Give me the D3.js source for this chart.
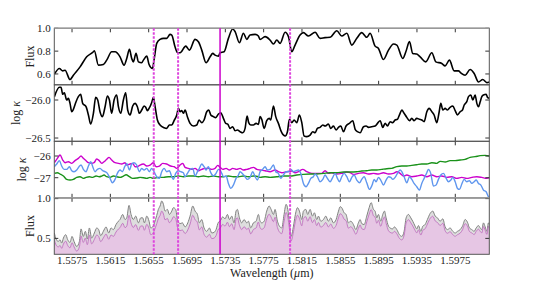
<!DOCTYPE html>
<html>
<head>
<meta charset="utf-8">
<script src="https://cdn.jsdelivr.net/npm/d3@7"></script>
<style>
body { margin: 0; background: #fff; }
text { font-family: "Liberation Serif", "DejaVu Serif", serif; fill: #222; }
</style>
</head>
<body>
<svg id="chart" width="544" height="283"></svg>
<script>
// wavelength range (micron) and tick values
var waveRange = [1.55565, 1.60105];
var waveTicks = [1.5575, 1.5615, 1.5655, 1.5695, 1.5735, 1.5775, 1.5815, 1.5855, 1.5895, 1.5935, 1.5975];

// marked lines
var dottedLines = [1.56603, 1.56857, 1.58026];
var solidLine = 1.57295;

// panel 1: observed flux
var fluxTop = [[1.55566,0.598],[1.55618,0.648],[1.55653,0.627],[1.55677,0.633],[1.55729,0.551],[1.55764,0.589],[1.55834,0.662],[1.55903,0.750],[1.55973,0.794],[1.55983,0.803],[1.56025,0.677],[1.56077,0.683],[1.56112,0.721],[1.56164,0.794],[1.56199,0.794],[1.56251,0.750],[1.56293,0.677],[1.56321,0.736],[1.56349,0.815],[1.56373,0.736],[1.5639,0.706],[1.56418,0.780],[1.56443,0.706],[1.56477,0.698],[1.56495,0.721],[1.5653,0.756],[1.56554,0.683],[1.56589,0.648],[1.56606,0.721],[1.56634,0.868],[1.56669,0.903],[1.56704,0.912],[1.56738,0.912],[1.56773,0.947],[1.56791,0.941],[1.56825,0.838],[1.56853,0.786],[1.56878,0.786],[1.56937,0.844],[1.56975,0.809],[1.57034,0.903],[1.57069,0.883],[1.57104,0.809],[1.57149,0.698],[1.57191,0.750],[1.57219,0.780],[1.57243,0.765],[1.57278,0.756],[1.57295,0.786],[1.57337,0.794],[1.57382,0.912],[1.57427,0.994],[1.57452,0.971],[1.57497,0.874],[1.57539,0.956],[1.57574,0.903],[1.57608,0.941],[1.57661,0.947],[1.57695,0.932],
  [1.57713,0.903],[1.57765,0.927],[1.57817,0.897],[1.57852,0.862],[1.57887,0.897],[1.57922,0.868],[1.57974,0.965],[1.58009,0.927],[1.58043,0.794],[1.58078,0.853],[1.5813,0.941],[1.58165,0.962],[1.58217,0.932],[1.58287,0.965],[1.58339,0.912],[1.58391,0.918],[1.58444,0.921],[1.58513,0.979],[1.58565,0.932],[1.58618,0.956],[1.5867,0.853],[1.58722,0.912],[1.58774,0.962],[1.58826,0.921],[1.58861,0.956],[1.58913,0.844],[1.58948,0.824],[1.59,0.727],[1.59053,0.809],[1.59105,0.862],[1.5914,0.853],[1.59202,0.736],[1.59234,0.794],[1.59272,0.883],[1.59306,0.780],[1.59348,0.774],[1.59383,0.750],[1.59442,0.706],[1.59505,0.786],[1.59547,0.706],[1.59609,0.692],[1.59644,0.671],[1.59689,0.721],[1.59738,0.627],[1.59783,0.627],[1.59808,0.609],[1.59853,0.589],[1.59905,0.639],[1.59947,0.604],[1.59992,0.530],[1.60037,0.551],[1.60079,0.524],[1.60107,0.530]];

// panel 2: log kappa
var logkTop = [[1.55566,-25.956],[1.55618,-25.833],[1.55635,-25.833],[1.55653,-25.925],[1.5567,-25.904],[1.55694,-26.0],[1.55712,-25.978],[1.55729,-26.044],[1.55747,-26.154],[1.55764,-26.123],[1.55792,-26.022],[1.55816,-25.956],[1.5584,-25.925],[1.55861,-26.044],[1.55896,-26.088],[1.55921,-26.197],[1.55945,-26.316],[1.55973,-26.175],[1.55997,-25.965],[1.56018,-26.0],[1.56042,-26.154],[1.56067,-26.219],[1.56095,-26.088],[1.56119,-25.947],[1.5614,-26.0],[1.56164,-26.175],[1.56189,-26.0],[1.56216,-25.934],[1.56234,-26.088],[1.56258,-26.175],[1.56286,-26.0],[1.5631,-25.904],[1.56331,-26.132],[1.56356,-26.197],[1.56383,-26.079],[1.56408,-26.044],[1.56432,-26.088],[1.56453,-26.175],[1.56477,-26.132],[1.56502,-26.079],[1.56519,-26.096],[1.56537,-26.140],[1.56554,-26.110],[1.56581,-26.035],[1.56599,-25.965],[1.56617,-26.088],[1.56641,-26.263],[1.56669,-26.329],[1.56711,-26.364],[1.56738,-26.373],[1.56766,-26.329],[1.56791,-26.329],[1.56815,-26.272],[1.56843,-26.197],[1.5686,-26.110],[1.56878,-26.154],[1.56895,-26.140],[1.56912,-26.175],[1.5693,-26.132],[1.56954,-26.219],[1.56982,-26.307],[1.57017,-26.342],[1.57052,-26.329],[1.57076,-26.263],[1.57104,-26.298],[1.57128,-26.263],[1.57156,-26.154],[1.57177,-26.132],[1.57198,-26.197],[1.57226,-26.219],[1.5725,-26.232],[1.57278,-26.184],[1.57302,-26.167],[1.5733,-26.241],[1.57354,-26.307],[1.57375,-26.316],[1.574,-26.373],[1.57427,-26.351],[1.57452,-26.404],[1.57476,-26.395],[1.57504,-26.417],[1.57532,-26.430],[1.57556,-26.373],[1.57577,-26.211],[1.57594,-26.298],[1.57615,-26.329],[1.57643,-26.329],[1.57671,-26.307],[1.57695,-26.320],
  [1.57713,-26.219],[1.5773,-26.254],[1.57755,-26.373],[1.57782,-26.272],[1.57807,-26.241],[1.57824,-26.263],[1.57852,-26.079],[1.57876,-26.219],[1.57904,-26.307],[1.57939,-26.430],[1.57974,-26.474],[1.57998,-26.417],[1.58019,-26.254],[1.58043,-26.298],[1.58068,-26.263],[1.58096,-26.298],[1.58123,-26.197],[1.58148,-26.298],[1.58172,-26.474],[1.582,-26.482],[1.58235,-26.461],[1.58263,-26.417],[1.58287,-26.430],[1.58311,-26.373],[1.58339,-26.360],[1.58367,-26.329],[1.58391,-26.342],[1.58426,-26.316],[1.5845,-26.373],[1.58478,-26.342],[1.58506,-26.395],[1.58531,-26.360],[1.58555,-26.342],[1.58583,-26.417],[1.5861,-26.342],[1.58645,-26.307],[1.5868,-26.272],[1.58705,-26.386],[1.58729,-26.417],[1.58757,-26.430],[1.58792,-26.351],[1.58819,-26.342],[1.58844,-26.360],[1.58878,-26.351],[1.58913,-26.342],[1.58938,-26.307],[1.58966,-26.272],[1.58993,-26.360],[1.59018,-26.307],[1.59042,-26.342],[1.5907,-26.285],[1.59098,-26.298],[1.59122,-26.263],[1.59146,-26.254],[1.59174,-26.175],[1.59192,-26.132],[1.59216,-26.175],[1.59244,-26.228],[1.59272,-26.272],[1.59296,-26.241],[1.5932,-26.272],[1.59348,-26.241],[1.59376,-26.254],[1.594,-26.263],[1.59425,-26.285],[1.59453,-26.154],[1.59477,-26.110],[1.59505,-26.154],[1.59529,-26.197],[1.59557,-26.298],[1.59582,-26.154],[1.59599,-26.044],[1.5962,-26.132],[1.59644,-26.110],[1.59668,-26.132],[1.59696,-26.096],[1.59724,-26.079],[1.59749,-26.140],[1.59773,-26.197],[1.59801,-26.154],[1.59825,-26.132],[1.59843,-26.066],[1.5987,-26.022],[1.59888,-25.956],[1.59912,-25.934],[1.59933,-26.0],[1.59957,-25.934],[1.59975,-26.044],[1.59992,-26.088],[1.6001,-26.022],[1.60027,-25.956],[1.60044,-25.934],[1.60072,-25.925],[1.60086,-25.965],[1.60107,-25.978]];

// panel 3: three log kappa curves
var logkMagenta = [[1.55566,-26.308],[1.55597,-26.108],[1.55625,-25.954],[1.55653,-26.185],[1.55677,-26.308],[1.55712,-26.262],[1.55747,-26.338],[1.55781,-26.215],[1.55816,-26.108],[1.55844,-26.0],[1.55868,-26.108],[1.55896,-26.215],[1.55921,-26.308],[1.55955,-26.338],[1.5598,-26.308],[1.56008,-26.138],[1.56035,-26.215],[1.5606,-26.338],[1.56084,-26.262],[1.56112,-26.154],[1.56136,-26.062],[1.56164,-26.185],[1.56199,-26.308],[1.56234,-26.338],[1.56268,-26.369],[1.56303,-26.308],[1.56321,-26.415],[1.56356,-26.369],[1.56383,-26.338],[1.56408,-26.492],[1.56432,-26.492],[1.5646,-26.415],[1.56495,-26.369],[1.5653,-26.462],[1.56564,-26.415],[1.56599,-26.308],[1.56627,-26.492],[1.56662,-26.462],[1.56696,-26.338],[1.56738,-26.369],[1.5678,-26.462],[1.56815,-26.492],[1.56843,-26.569],[1.56878,-26.415],[1.56905,-26.338],[1.5693,-26.523],[1.56965,-26.569],[1.56999,-26.615],[1.57034,-26.569],[1.57069,-26.677],[1.57104,-26.615],[1.57139,-26.569],[1.57173,-26.569],[1.57208,-26.615],[1.57243,-26.569],[1.57271,-26.431],[1.57295,-26.523],[1.57323,-26.615],[1.57358,-26.569],[1.57393,-26.646],[1.57427,-26.569],[1.57469,-26.615],[1.57504,-26.569],[1.57539,-26.646],[1.57574,-26.615],[1.57608,-26.569],[1.57643,-26.523],[1.57678,-26.615],
  [1.57713,-26.646],[1.57765,-26.677],[1.57817,-26.723],[1.57869,-26.646],[1.57904,-26.723],[1.57939,-26.769],[1.57991,-26.723],[1.58043,-26.692],[1.58078,-26.769],[1.58113,-26.723],[1.58158,-26.615],[1.582,-26.723],[1.58252,-26.8],[1.58304,-26.8],[1.58357,-26.8],[1.58391,-26.677],[1.58426,-26.8],[1.58461,-26.769],[1.58513,-26.831],[1.58565,-26.8],[1.58618,-26.738],[1.58652,-26.769],[1.58687,-26.846],[1.58739,-26.8],[1.58792,-26.769],[1.58844,-26.831],[1.58896,-26.8],[1.58948,-26.831],[1.59,-26.769],[1.59053,-26.831],[1.59105,-26.8],[1.5914,-26.723],[1.59174,-26.8],[1.59209,-26.923],[1.59244,-26.877],[1.59296,-26.954],[1.59348,-26.923],[1.594,-26.877],[1.59453,-26.954],[1.59505,-26.877],[1.59557,-26.954],[1.59609,-26.923],[1.59662,-26.985],[1.59714,-26.954],[1.59766,-27.031],[1.59818,-26.985],[1.5987,-27.031],[1.59923,-26.985],[1.59975,-26.954],[1.60027,-26.985],[1.60079,-27.031],[1.60107,-27.0]];

var logkGreen = [[1.55566,-26.8],[1.55597,-26.769],[1.55625,-26.831],[1.5566,-26.923],[1.55694,-27.077],[1.55729,-27.108],[1.55764,-27.077],[1.55799,-26.985],[1.55834,-26.954],[1.55868,-27.031],[1.55896,-26.985],[1.55931,-26.954],[1.55966,-26.985],[1.56001,-26.923],[1.56035,-26.954],[1.5606,-26.923],[1.56084,-26.877],[1.56112,-26.954],[1.56147,-26.985],[1.56182,-26.923],[1.56216,-26.954],[1.56251,-26.985],[1.56286,-26.923],[1.56314,-26.862],[1.56349,-26.954],[1.56383,-27.031],[1.56425,-27.015],[1.5646,-26.985],[1.56495,-27.0],[1.5653,-27.031],[1.56564,-26.985],[1.56599,-27.031],[1.56651,-26.985],[1.56704,-26.985],[1.56756,-26.954],[1.56808,-26.954],[1.5686,-26.923],[1.56912,-26.954],[1.56965,-26.923],[1.57017,-26.923],[1.57069,-26.954],[1.57121,-26.923],[1.57173,-26.954],[1.57226,-26.923],[1.57278,-26.954],[1.5733,-26.954],[1.57382,-26.923],[1.57434,-26.954],[1.57487,-26.954],[1.57539,-26.923],[1.57591,-26.954],[1.57643,-26.923],[1.57695,-26.954],
  [1.57713,-26.985],[1.57765,-26.954],[1.57817,-26.985],[1.57887,-26.954],[1.57956,-26.923],[1.58026,-26.923],[1.58096,-26.877],[1.58165,-26.846],[1.58235,-26.831],[1.58304,-26.831],[1.58374,-26.8],[1.58444,-26.769],[1.58513,-26.769],[1.58583,-26.738],[1.58652,-26.738],[1.58722,-26.723],[1.58774,-26.692],[1.58826,-26.677],[1.58878,-26.646],[1.58931,-26.646],[1.58983,-26.615],[1.59035,-26.585],[1.59087,-26.569],[1.5914,-26.492],[1.59192,-26.462],[1.59244,-26.462],[1.59296,-26.431],[1.59348,-26.4],[1.594,-26.369],[1.59453,-26.369],[1.59505,-26.308],[1.59557,-26.338],[1.59592,-26.246],[1.59644,-26.277],[1.59696,-26.215],[1.59749,-26.215],[1.59801,-26.185],[1.59853,-26.154],[1.59905,-26.062],[1.59957,-26.031],[1.6001,-25.985],[1.60062,-25.969],[1.60107,-26.0]];

var logkBlue = [[1.55566,-26.492],[1.5559,-26.369],[1.55618,-26.215],[1.55642,-26.462],[1.55667,-26.615],[1.55694,-26.615],[1.55722,-26.492],[1.55747,-26.677],[1.55771,-26.723],[1.55799,-26.646],[1.55823,-26.492],[1.55844,-26.415],[1.55868,-26.615],[1.55896,-26.723],[1.55921,-26.462],[1.55945,-26.262],[1.55966,-26.492],[1.5599,-26.723],[1.56015,-26.615],[1.56042,-26.569],[1.5607,-26.677],[1.56095,-26.723],[1.56119,-26.8],[1.56147,-27.031],[1.56171,-27.231],[1.56199,-27.077],[1.56223,-26.8],[1.56251,-26.646],[1.56276,-26.723],[1.563,-26.492],[1.56321,-26.338],[1.56349,-26.646],[1.56373,-26.369],[1.56397,-26.308],[1.56425,-26.415],[1.56453,-26.723],[1.56477,-26.569],[1.56502,-26.646],[1.5653,-26.569],[1.56557,-26.723],[1.56581,-26.569],[1.56606,-26.723],[1.56634,-26.954],[1.56662,-27.031],[1.56686,-26.723],[1.56711,-26.569],[1.56738,-26.723],[1.56766,-26.677],[1.56791,-26.954],[1.56808,-27.077],[1.56832,-26.8],[1.5686,-26.677],[1.56885,-26.723],[1.56912,-26.769],[1.5693,-26.954],[1.56954,-26.8],[1.56982,-26.615],[1.5701,-26.569],[1.57034,-26.923],[1.57059,-26.723],[1.57079,-26.569],[1.57104,-26.369],[1.57128,-26.492],[1.57149,-26.646],[1.57173,-26.492],[1.57198,-26.769],[1.57226,-26.923],[1.57253,-26.8],[1.57278,-26.615],[1.57295,-26.646],[1.57313,-26.8],[1.5733,-26.954],[1.57358,-26.923],[1.57382,-27.262],[1.57407,-27.492],[1.57434,-27.338],[1.57462,-27.031],[1.57487,-26.877],[1.57504,-26.723],[1.57532,-26.831],[1.57556,-26.954],[1.5758,-27.077],[1.57608,-26.985],[1.57636,-26.723],[1.57661,-26.954],[1.57685,-27.108],
  [1.57713,-26.723],[1.5774,-26.615],[1.57765,-26.492],[1.57789,-26.646],[1.57817,-26.615],[1.57852,-26.415],[1.57876,-26.723],[1.57904,-26.8],[1.57928,-27.031],[1.57956,-26.877],[1.57984,-26.723],[1.58009,-26.723],[1.58033,-26.615],[1.58061,-26.723],[1.58089,-26.677],[1.58113,-26.646],[1.58137,-26.8],[1.58165,-27.262],[1.58193,-27.415],[1.58217,-27.262],[1.58242,-27.031],[1.58269,-26.954],[1.58287,-26.831],[1.58311,-26.954],[1.58339,-27.185],[1.58367,-27.077],[1.58391,-26.877],[1.58409,-26.985],[1.58444,-27.185],[1.58471,-26.985],[1.58496,-26.8],[1.5852,-27.031],[1.58541,-27.185],[1.58565,-26.954],[1.5859,-26.8],[1.58618,-26.954],[1.58645,-27.185],[1.5867,-26.985],[1.58694,-26.877],[1.58722,-27.108],[1.5875,-27.231],[1.58774,-27.077],[1.58799,-26.954],[1.58826,-27.231],[1.58854,-27.538],[1.58882,-27.338],[1.58903,-27.077],[1.58924,-27.185],[1.58948,-26.985],[1.58972,-27.108],[1.59,-27.338],[1.59028,-27.108],[1.59053,-26.954],[1.59077,-26.985],[1.59098,-27.077],[1.59122,-26.985],[1.59146,-26.8],[1.59174,-26.646],[1.59192,-26.723],[1.59216,-26.954],[1.59244,-27.231],[1.59272,-26.954],[1.59296,-27.077],[1.5932,-27.262],[1.59348,-27.415],[1.59376,-27.569],[1.594,-27.262],[1.59425,-27.031],[1.59453,-26.769],[1.5947,-26.615],[1.59494,-26.8],[1.59522,-27.385],[1.5955,-27.338],[1.59574,-27.077],[1.59599,-26.877],[1.59627,-26.8],[1.59655,-27.031],[1.59679,-27.185],[1.59704,-27.108],[1.59724,-26.985],[1.59749,-27.185],[1.59773,-27.492],[1.59794,-27.538],[1.59818,-27.292],[1.59843,-27.077],[1.5987,-27.185],[1.59898,-27.138],[1.59923,-27.262],[1.59947,-27.185],[1.59968,-27.108],[1.59992,-27.262],[1.60017,-27.338],[1.60044,-27.569],[1.60072,-27.646],[1.60096,-27.877],[1.60107,-27.908]];

// panel 4: model flux (grey) and flux with extra opacity (pink)
var fluxGrey = [[1.55566,0.568],[1.55583,0.492],[1.55607,0.462],[1.55625,0.483],[1.55642,0.441],[1.5566,0.504],[1.55684,0.547],[1.55705,0.483],[1.55729,0.449],[1.5575,0.525],[1.55771,0.462],[1.55799,0.398],[1.55827,0.462],[1.55844,0.619],[1.55868,0.525],[1.55889,0.589],[1.5591,0.492],[1.55931,0.631],[1.55955,0.504],[1.55983,0.568],[1.56008,0.631],[1.56028,0.610],[1.56049,0.534],[1.56077,0.589],[1.56105,0.644],[1.56133,0.568],[1.56157,0.631],[1.56182,0.610],[1.56209,0.674],[1.56234,0.716],[1.56251,0.737],[1.56279,0.801],[1.56303,0.737],[1.56321,0.758],[1.56345,0.915],[1.56366,0.801],[1.5639,0.737],[1.56415,0.780],[1.56443,0.695],[1.56467,0.758],[1.56488,0.758],[1.56505,0.695],[1.5653,0.780],[1.56554,0.716],[1.56571,0.631],[1.56592,0.644],[1.5661,0.695],[1.56634,0.788],[1.56651,0.864],[1.56669,0.907],[1.56686,0.970],[1.56704,0.928],[1.56721,0.843],[1.56745,0.864],[1.56766,0.801],[1.56791,0.843],[1.56808,0.886],[1.56832,0.864],[1.5685,0.737],[1.56878,0.686],[1.56902,0.695],[1.5693,0.644],[1.56958,0.695],[1.56982,0.780],[1.5701,0.907],[1.57034,0.843],[1.57059,0.801],[1.57079,0.695],[1.57104,0.737],[1.57128,0.631],[1.57156,0.589],[1.57184,0.631],[1.57208,0.568],[1.57233,0.576],[1.57253,0.610],[1.57278,0.703],[1.57295,0.716],[1.57323,0.771],[1.57347,0.746],[1.57372,0.801],[1.57393,0.737],[1.57417,0.780],[1.57441,0.695],[1.57462,0.843],[1.57476,0.864],[1.57497,0.758],[1.57521,0.695],[1.57546,0.737],[1.57574,0.695],[1.57591,0.716],[1.57615,0.631],[1.57643,0.695],[1.57671,0.716],[1.57695,0.801],
  [1.57713,0.716],[1.5773,0.695],[1.57755,0.716],[1.57782,0.843],[1.57807,0.907],[1.57828,0.864],[1.57852,0.801],[1.57869,0.864],[1.57894,0.716],[1.57915,0.653],[1.57939,0.631],[1.57963,0.801],[1.57984,0.928],[1.58002,0.864],[1.58019,0.695],[1.58036,0.525],[1.58061,0.653],[1.58078,0.780],[1.58103,0.886],[1.58123,0.843],[1.58148,0.737],[1.58165,0.843],[1.5819,0.864],[1.5821,0.801],[1.58235,0.864],[1.58259,0.780],[1.5828,0.822],[1.58304,0.737],[1.58322,0.780],[1.58346,0.716],[1.58374,0.737],[1.58398,0.780],[1.58426,0.716],[1.5845,0.758],[1.58478,0.695],[1.58506,0.737],[1.58531,0.843],[1.58548,0.898],[1.58565,0.886],[1.5859,0.822],[1.5861,0.801],[1.58635,0.695],[1.58659,0.716],[1.58687,0.674],[1.58712,0.610],[1.58739,0.695],[1.58757,0.737],[1.58774,0.686],[1.58799,0.674],[1.58826,0.780],[1.58851,0.886],[1.58872,0.949],[1.58896,0.864],[1.58913,0.843],[1.58931,0.758],[1.58948,0.801],[1.58972,0.716],[1.58993,0.801],[1.59011,0.843],[1.59028,0.758],[1.59053,0.653],[1.5907,0.631],[1.59094,0.619],[1.59115,0.644],[1.5914,0.610],[1.59167,0.547],[1.59192,0.525],[1.59216,0.589],[1.59237,0.758],[1.59261,0.801],[1.59286,0.758],[1.59306,0.716],[1.59331,0.653],[1.59348,0.619],[1.59366,0.661],[1.5939,0.589],[1.59411,0.653],[1.59435,0.674],[1.59459,0.737],[1.59488,0.814],[1.59515,0.843],[1.5954,0.780],[1.59564,0.758],[1.59592,0.716],[1.5962,0.746],[1.59644,0.644],[1.59668,0.610],[1.59696,0.631],[1.59724,0.589],[1.59749,0.568],[1.59773,0.589],[1.59801,0.610],[1.59825,0.653],[1.59853,0.737],[1.59877,0.703],[1.59898,0.631],[1.59923,0.610],[1.59947,0.589],[1.59968,0.631],[1.59992,0.661],[1.6001,0.631],[1.60027,0.610],[1.60044,0.695],[1.60062,0.644],[1.60079,0.589],[1.60096,0.695],[1.60107,0.674]];

var fluxPink = [[1.55566,0.483],[1.55583,0.418],[1.55607,0.393],[1.55625,0.411],[1.55642,0.375],[1.5566,0.428],[1.55684,0.465],[1.55705,0.411],[1.55729,0.382],[1.5575,0.446],[1.55771,0.393],[1.55799,0.340],[1.55827,0.395],[1.55844,0.529],[1.55868,0.449],[1.55889,0.504],[1.5591,0.421],[1.55931,0.540],[1.55955,0.431],[1.55983,0.487],[1.56008,0.542],[1.56028,0.524],[1.56049,0.459],[1.56077,0.506],[1.56105,0.554],[1.56133,0.489],[1.56157,0.543],[1.56182,0.525],[1.56209,0.580],[1.56234,0.617],[1.56251,0.635],[1.56279,0.690],[1.56303,0.635],[1.56321,0.653],[1.56345,0.790],[1.56366,0.692],[1.5639,0.637],[1.56415,0.674],[1.56443,0.601],[1.56467,0.656],[1.56488,0.656],[1.56505,0.602],[1.5653,0.676],[1.56554,0.621],[1.56571,0.547],[1.56592,0.558],[1.5661,0.603],[1.56634,0.684],[1.56651,0.750],[1.56669,0.788],[1.56686,0.843],[1.56704,0.806],[1.56721,0.733],[1.56745,0.751],[1.56766,0.697],[1.56791,0.733],[1.56808,0.771],[1.56832,0.752],[1.5685,0.642],[1.56878,0.598],[1.56902,0.605],[1.5693,0.561],[1.56958,0.606],[1.56982,0.680],[1.5701,0.791],[1.57034,0.736],[1.57059,0.699],[1.57079,0.607],[1.57104,0.644],[1.57128,0.551],[1.57156,0.515],[1.57184,0.552],[1.57208,0.497],[1.57233,0.504],[1.57253,0.534],[1.57278,0.616],[1.57295,0.627],[1.57323,0.676],[1.57347,0.654],[1.57372,0.703],[1.57393,0.647],[1.57417,0.685],[1.57441,0.610],[1.57462,0.741],[1.57476,0.759],[1.57497,0.666],[1.57521,0.611],[1.57546,0.648],[1.57574,0.612],[1.57591,0.630],[1.57615,0.556],[1.57643,0.612],[1.57671,0.631],[1.57695,0.706],
  [1.57713,0.633],[1.5773,0.614],[1.57755,0.633],[1.57782,0.747],[1.57807,0.804],[1.57828,0.766],[1.57852,0.710],[1.57869,0.766],[1.57894,0.636],[1.57915,0.580],[1.57939,0.560],[1.57963,0.712],[1.57984,0.825],[1.58002,0.769],[1.58019,0.619],[1.58036,0.467],[1.58061,0.582],[1.58078,0.695],[1.58103,0.790],[1.58123,0.752],[1.58148,0.658],[1.58165,0.753],[1.5819,0.772],[1.5821,0.716],[1.58235,0.773],[1.58259,0.698],[1.5828,0.737],[1.58304,0.660],[1.58322,0.700],[1.58346,0.642],[1.58374,0.662],[1.58398,0.700],[1.58426,0.644],[1.5845,0.681],[1.58478,0.626],[1.58506,0.663],[1.58531,0.760],[1.58548,0.809],[1.58565,0.799],[1.5859,0.741],[1.5861,0.723],[1.58635,0.628],[1.58659,0.647],[1.58687,0.609],[1.58712,0.552],[1.58739,0.629],[1.58757,0.668],[1.58774,0.622],[1.58799,0.611],[1.58826,0.707],[1.58851,0.804],[1.58872,0.862],[1.58896,0.785],[1.58913,0.766],[1.58931,0.690],[1.58948,0.729],[1.58972,0.652],[1.58993,0.730],[1.59011,0.769],[1.59028,0.691],[1.59053,0.596],[1.5907,0.576],[1.59094,0.566],[1.59115,0.589],[1.5914,0.558],[1.59167,0.500],[1.59192,0.481],[1.59216,0.540],[1.59237,0.695],[1.59261,0.735],[1.59286,0.696],[1.59306,0.657],[1.59331,0.600],[1.59348,0.569],[1.59366,0.608],[1.5939,0.542],[1.59411,0.601],[1.59435,0.621],[1.59459,0.680],[1.59488,0.751],[1.59515,0.778],[1.5954,0.720],[1.59564,0.700],[1.59592,0.662],[1.5962,0.690],[1.59644,0.596],[1.59668,0.565],[1.59696,0.584],[1.59724,0.546],[1.59749,0.527],[1.59773,0.547],[1.59801,0.566],[1.59825,0.607],[1.59853,0.685],[1.59877,0.654],[1.59898,0.587],[1.59923,0.568],[1.59947,0.548],[1.59968,0.588],[1.59992,0.616],[1.6001,0.589],[1.60027,0.569],[1.60044,0.649],[1.60062,0.601],[1.60079,0.551],[1.60096,0.650],[1.60107,0.630]];

// y ranges and ticks per panel
var yDomains = [[0.505, 1.0], [-26.543, -25.8], [-27.925, -25.323], [0.30, 1.01]];
var yTickVals = [[0.6, 0.8, 1.0], [-26.5, -26.0], [-27, -26], [0.5, 1.0]];
var yTickFmt = ['.1f', '.1f', 'd', '.1f'];

var svg = d3.select('#chart');
var left = 54.3, right = 489.3, top0 = 28.3, panelH = 56.5;
var bottom = top0 + 4 * panelH;

var x = d3.scaleLinear().domain(waveRange).range([left, right]);

var ys = yDomains.map(function(dom, i) {
    var t = top0 + i * panelH;
    return d3.scaleLinear().domain(dom).range([t + panelH, t]);
});

// clip each panel
var defs = svg.append('defs');
ys.forEach(function(y, i) {
    defs.append('clipPath').attr('id', 'clip' + i)
        .append('rect')
        .attr('x', left).attr('y', top0 + i * panelH)
        .attr('width', right - left).attr('height', panelH);
});

function lineFor(y) {
    return d3.line()
        .x(function(d) { return x(d[0]); })
        .y(function(d) { return y(d[1]); })
        .curve(d3.curveMonotoneX);
}
function areaFor(y) {
    return d3.area()
        .x(function(d) { return x(d[0]); })
        .y0(y.range()[0])
        .y1(function(d) { return y(d[1]); })
        .curve(d3.curveMonotoneX);
}

// panel 4 fills
var g4 = svg.append('g').attr('clip-path', 'url(#clip3)');
g4.append('path').datum(fluxGrey).attr('d', areaFor(ys[3])).attr('fill', '#dedede');
g4.append('path').datum(fluxGrey).attr('d', lineFor(ys[3])).attr('fill', 'none').attr('stroke', '#808080').attr('stroke-width', 1);
g4.append('path').datum(fluxPink).attr('d', areaFor(ys[3])).attr('fill', '#e6c6e4');
g4.append('path').datum(fluxPink).attr('d', lineFor(ys[3])).attr('fill', 'none').attr('stroke', '#c070c0').attr('stroke-width', 0.9);

// panel 1 and 2 black curves
svg.append('g').attr('clip-path', 'url(#clip0)')
    .append('path').datum(fluxTop).attr('d', lineFor(ys[0]))
    .attr('fill', 'none').attr('stroke', '#000').attr('stroke-width', 1.6);
svg.append('g').attr('clip-path', 'url(#clip1)')
    .append('path').datum(logkTop).attr('d', lineFor(ys[1]))
    .attr('fill', 'none').attr('stroke', '#000').attr('stroke-width', 1.6);

// panel 3 coloured curves
var g3 = svg.append('g').attr('clip-path', 'url(#clip2)');
[[logkMagenta, '#cc00cc'], [logkGreen, '#1a921a'], [logkBlue, '#5f96ee']].forEach(function(s) {
    g3.append('path').datum(s[0]).attr('d', lineFor(ys[2]))
        .attr('fill', 'none').attr('stroke', s[1]).attr('stroke-width', 1.4);
});

// frames and ticks
ys.forEach(function(y, i) {
    var t = top0 + i * panelH;
    var g = svg.append('g');
    // x ticks, inward
    if (i !== 1) {
        g.selectAll('.xt').data(waveTicks).enter().append('line')
            .attr('x1', function(d) { return x(d); }).attr('x2', function(d) { return x(d); })
            .attr('y1', t).attr('y2', t + 4).attr('stroke', '#333');
    }
    if (i !== 3) {
        g.selectAll('.xb').data(waveTicks).enter().append('line')
            .attr('x1', function(d) { return x(d); }).attr('x2', function(d) { return x(d); })
            .attr('y1', t + panelH).attr('y2', t + panelH - 4).attr('stroke', '#333');
    }
    // y ticks both sides
    yTickVals[i].forEach(function(v) {
        g.append('line').attr('x1', left).attr('x2', left + 4).attr('y1', y(v)).attr('y2', y(v)).attr('stroke', '#333');
        g.append('line').attr('x1', right).attr('x2', right - 4).attr('y1', y(v)).attr('y2', y(v)).attr('stroke', '#333');
        g.append('text').attr('x', left - 3.5).attr('y', y(v)).attr('dy', '0.35em')
            .attr('text-anchor', 'end').attr('font-size', 11)
            .text(d3.format(yTickFmt[i])(v));
    });
    g.append('rect').attr('x', left).attr('y', t).attr('width', right - left).attr('height', panelH)
        .attr('fill', 'none').attr('stroke', '#555').attr('stroke-width', 1);
});

// lighter, heavier top edges of panels 1 and 4
[0, 3].forEach(function(i) {
    svg.append('line').attr('x1', left).attr('x2', right)
        .attr('y1', top0 + i * panelH).attr('y2', top0 + i * panelH)
        .attr('stroke', '#999').attr('stroke-width', 1.6);
});

// vertical markers
svg.selectAll('.dl').data(dottedLines).enter().append('line')
    .attr('x1', function(d) { return x(d); }).attr('x2', function(d) { return x(d); })
    .attr('y1', top0).attr('y2', bottom)
    .attr('stroke', '#dd44dd').attr('stroke-width', 2).attr('stroke-dasharray', '2.5,1.5');
svg.append('line')
    .attr('x1', x(solidLine)).attr('x2', x(solidLine))
    .attr('y1', top0).attr('y2', bottom)
    .attr('stroke', '#cc00cc').attr('stroke-width', 1.5);

// x tick labels
svg.selectAll('.xl').data(waveTicks).enter().append('text')
    .attr('x', function(d) { return x(d); }).attr('y', bottom + 10)
    .attr('text-anchor', 'middle').attr('font-size', 11)
    .text(function(d) { return d3.format('.4f')(d); });

// axis titles
var xTitle = svg.append('text').attr('x', (left + right) / 2).attr('y', 276.5)
    .attr('text-anchor', 'middle').attr('font-size', 12);
xTitle.append('tspan').text('Wavelength (');
xTitle.append('tspan').attr('font-style', 'italic').text('\u03bc');
xTitle.append('tspan').text('m)');

var yTitles = [
    { x: 30, kappa: false },
    { x: 15.5, kappa: true },
    { x: 22, kappa: true },
    { x: 29.5, kappa: false }
];
yTitles.forEach(function(lab, i) {
    var cy = top0 + i * panelH + panelH / 2;
    var tx = svg.append('text')
        .attr('transform', 'translate(' + lab.x + ',' + cy + ') rotate(-90)')
        .attr('text-anchor', 'middle').attr('dy', '0.35em').attr('font-size', 12);
    if (lab.kappa) {
        tx.append('tspan').text('log ');
        tx.append('tspan').attr('font-style', 'italic').text('\u03ba');
    } else {
        tx.text('Flux');
    }
});
</script>
</body>
</html>
